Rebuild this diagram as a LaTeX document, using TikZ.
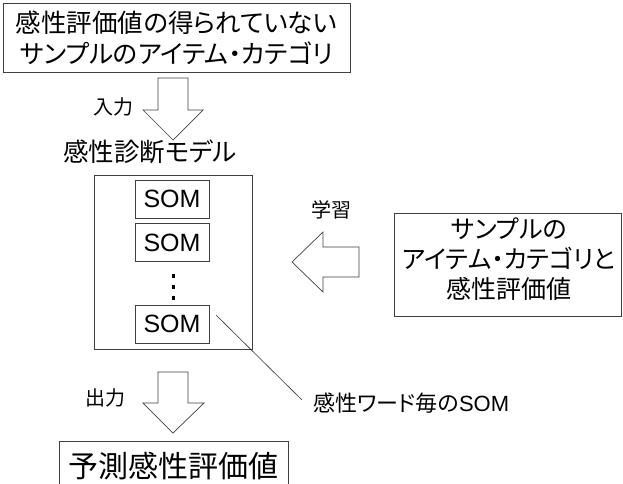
\documentclass[tikz,border=0pt]{standalone}
\usepackage{fontspec}
\setmainfont{Liberation Sans}
\newfontfamily\jp[CharacterWidth=AlternateProportional]{Noto Sans CJK JP}
\begin{document}
\begin{tikzpicture}[x=1pt,y=-1pt,
  box/.style={draw=black!75, line width=0.8pt, inner sep=0pt, align=center},
  big/.style={font=\jp\fontsize{25.5}{31}\selectfont},
  small/.style={font=\jp\fontsize{20}{24}\selectfont},
  somstyle/.style={box, minimum width=74pt, minimum height=38pt, font=\fontsize{25}{28}\selectfont},
  dotstyle/.style={fill=black, minimum size=3.5pt, inner sep=0pt},
  blockarrow/.style={draw=black!75, line width=0.7pt, fill=white, line join=miter}]
\useasboundingbox (0,0) rectangle (623,483);
% top box
\node[box, big, minimum width=347pt, minimum height=69pt] (top) at (176.5,37.5)
  {感性評価値の得られていない\\サンプルのアイテム・カテゴリ};
% input arrow
\draw[blockarrow] (158,78) -- (188,78) -- (188,110) -- (203,110) -- (173,140) -- (143,110) -- (158,110) -- cycle;
\node[small] (inlabel) at (113,107) {入力};
% model
\node[big] (modellabel) at (150,152) {感性診断モデル};
\node[box, minimum width=158.5pt, minimum height=174pt] (model) at (173.25,262) {};
\node[somstyle] (som1) at (172,199) {SOM};
\node[somstyle] (som2) at (172,242.5) {SOM};
\node[dotstyle] (d1) at (173.3,276) {};
\node[dotstyle] (d2) at (173.3,287) {};
\node[dotstyle] (d3) at (173.3,298) {};
\node[somstyle] (som3) at (172,324) {SOM};
% learning
\draw[blockarrow] (292,262) -- (323,232) -- (323,247) -- (359,247) -- (359,277) -- (323,277) -- (323,292) -- cycle;
\node[small] (learnlabel) at (331,210) {学習};
\node[box, minimum width=227pt, minimum height=103pt] (samplebox) at (507.5,264.5) {};
\node[align=center, font=\jp\fontsize{25}{30}\selectfont] (sampletext) at (509,259)
  {サンプルの\\アイテム・カテゴリと\\感性評価値};
% annotation
\coordinate (lineA) at (216,315);
\coordinate (lineB) at (302,400);
\draw[black!80, line width=0.6pt] (lineA) -- (lineB);
\node[anchor=west, inner sep=0pt, font=\fontsize{22}{24}\selectfont] (perword) at (313,403) {{\jp 感性ワード毎の}SOM};
% output arrow
\draw[blockarrow] (158,372) -- (188,372) -- (188,403) -- (204,403) -- (173,433) -- (143,403) -- (158,403) -- cycle;
\node[small] (outlabel) at (105,398) {出力};
% result box
\node[box, minimum width=229pt, minimum height=49pt, font=\jp\fontsize{30}{34}\selectfont] (result) at (173.5,466) {予測感性評価値};
\end{tikzpicture}
\end{document}
